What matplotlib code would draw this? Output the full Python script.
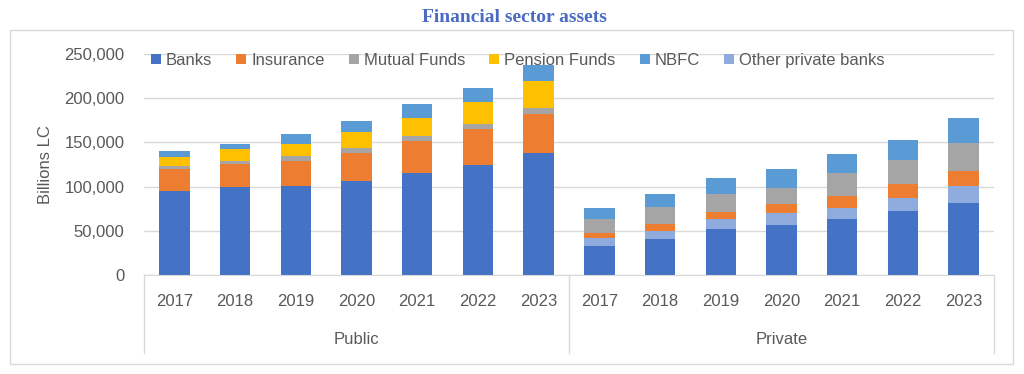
import numpy as np
import matplotlib.pyplot as plt
from matplotlib.lines import Line2D
from matplotlib.patches import Rectangle
from matplotlib.ticker import FuncFormatter

# Categories: 7 public years followed by 7 private years
years = ['2017', '2018', '2019', '2020', '2021', '2022', '2023']
groups = ['Public', 'Private']

# Stacked series (billions LC), public values then private values
banks = [95500, 99000, 101000, 106500, 115500, 125000, 138500,
         33000, 41000, 52000, 56000, 63500, 72500, 82000]
other_private = [0, 0, 0, 0, 0, 0, 0,
                 9000, 9000, 11000, 14500, 12800, 14700, 18500]
insurance = [24000, 26500, 28500, 32000, 36000, 40500, 43500,
             6000, 7600, 7900, 9800, 13600, 15600, 17300]
mutual_funds = [3700, 3400, 5300, 5700, 5300, 5000, 6700,
                15000, 18900, 20400, 18500, 26000, 27300, 31000]
pension = [9800, 13200, 13200, 17000, 21100, 25500, 30200,
           0, 0, 0, 0, 0, 0, 0]
nbfc = [7200, 5600, 11300, 13200, 15100, 15500, 19000,
        13300, 15000, 18800, 20800, 20800, 22500, 28500]

# stacking order (bottom -> top)
stack = [('Banks', banks, '#4472C4'),
         ('Other private banks', other_private, '#8FAADC'),
         ('Insurance', insurance, '#ED7D31'),
         ('Mutual Funds', mutual_funds, '#A5A5A5'),
         ('Pension Funds', pension, '#FFC000'),
         ('NBFC', nbfc, '#5B9BD5')]
legend_order = ['Banks', 'Insurance', 'Mutual Funds', 'Pension Funds', 'NBFC', 'Other private banks']

plt.rcParams['font.family'] = ['Liberation Sans', 'DejaVu Sans']
txt = '#595959'
grid = '#D9D9D9'
fs = 12

W, H = 1024, 374
fig = plt.figure(figsize=(W/100, H/100), dpi=100, facecolor='w')

# outer chart border
fig.patches.append(Rectangle((10/W, 1-364/H), 1003/W, 334/H, transform=fig.transFigure,
                             fill=False, edgecolor=grid, linewidth=1))
fig.text(514/W, 1-17/H, 'Financial sector assets', ha='center', va='center',
         family=['Liberation Serif', 'DejaVu Serif'], fontweight='bold', fontsize=14, color='#4A6BC4')

ax = fig.add_axes([144/W, 1-275/H, 850/W, 221/H])
n = len(banks)
x = np.arange(n)
bottom = np.zeros(n)
handles = {}
for name, vals, col in stack:
    v = np.array(vals, dtype=float)
    b = ax.bar(x, v, bottom=bottom, width=0.5, color=col, label=name, zorder=2)
    handles[name] = b
    bottom += v

ax.set_xlim(-0.5, n-0.5)
ax.set_ylim(0, 250000)
ax.set_yticks(np.arange(0, 250001, 50000))
ax.yaxis.set_major_formatter(FuncFormatter(lambda v, p: f'{int(v):,}'))
ax.grid(axis='y', color=grid, linewidth=1, zorder=0)
for s in ['top', 'right', 'left']:
    ax.spines[s].set_visible(False)
ax.spines['bottom'].set_color(grid)
ax.tick_params(axis='y', length=0, labelsize=fs, labelcolor=txt, pad=14)
ax.tick_params(axis='x', length=0, labelbottom=False)
ax.set_ylabel('Billions LC', fontsize=fs, color=txt, labelpad=8)

# multi-level category axis
tr = ax.get_xaxis_transform()
for i in range(n):
    ax.text(i, -26/221, years[i % 7], transform=tr, ha='center', va='center', fontsize=fs, color=txt)
for g, name in enumerate(groups):
    ax.text(g*7 + 3, -65/221, name, transform=tr, ha='center', va='center', fontsize=fs, color=txt)
for xs in [-0.5, 6.5, n-0.5]:
    ax.add_line(Line2D([xs, xs], [0, -78/221], transform=tr, color=grid, linewidth=1, clip_on=False))

ax.legend([handles[k] for k in legend_order], legend_order, loc='upper left',
          bbox_to_anchor=(0.0, 1.035), ncol=6, frameon=False, fontsize=fs,
          labelcolor=txt, handlelength=0.6, handleheight=0.6, handletextpad=0.3,
          columnspacing=1.45, borderaxespad=0)

fig.savefig('out.png', dpi=100, facecolor='w')
